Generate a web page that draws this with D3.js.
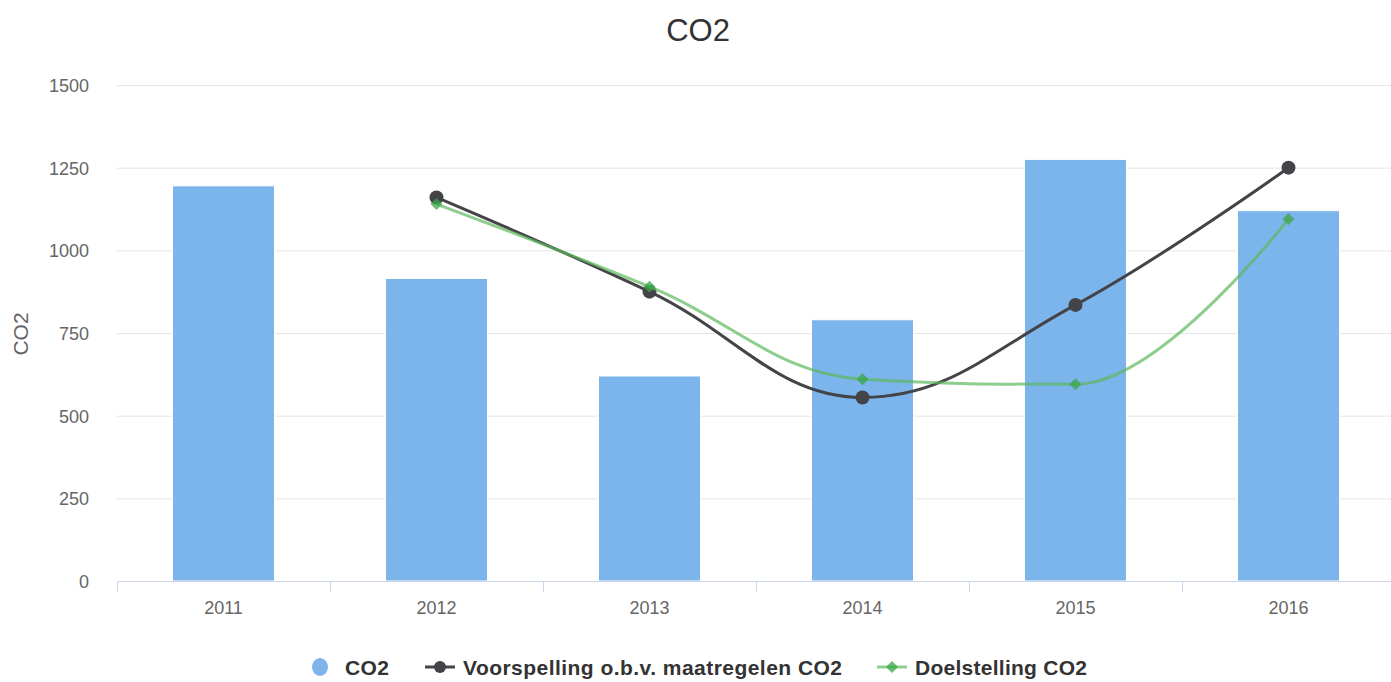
<!DOCTYPE html>
<html><head><meta charset="utf-8">
<script src="https://cdn.jsdelivr.net/npm/d3@7"></script>
<style>body{margin:0;background:#fff}svg{display:block;font-family:"Liberation Sans",Arial,Helvetica,sans-serif}</style>
</head><body><svg id="c" width="1391" height="682"></svg>
<script>
const categories = ["2011","2012","2013","2014","2015","2016"];
const co2 = [1195, 915, 620, 790, 1275, 1120];
const voorspelling = [null, 1160, 875, 555, 835, 1250];
const doelstelling = [null, 1140, 890, 610, 595, 1095];
const yTicks = [0,250,500,750,1000,1250,1500];

const svg = d3.select("#c");
const m = {l:117, r:1395, t:85, b:581};
const x = d3.scaleBand().domain(categories).range([m.l, m.r]);
const y = d3.scaleLinear().domain([0,1500]).range([m.b, m.t]);

svg.append("text").attr("x",698).attr("y",41).attr("text-anchor","middle")
  .attr("font-size",31).attr("fill","#333").text("CO2");

// grid
svg.append("g").selectAll("line").data(yTicks.filter(d=>d>0)).join("line")
  .attr("x1",m.l).attr("x2",1391).attr("y1",d=>y(d)+0.5).attr("y2",d=>y(d)+0.5)
  .attr("stroke","#e6e6e6").attr("stroke-width",1);

// y labels
svg.append("g").selectAll("text").data(yTicks).join("text")
  .attr("x",89).attr("y",d=>y(d)+7).attr("text-anchor","end")
  .attr("font-size",18).attr("fill","#666").text(d=>d);

svg.append("text").attr("transform","translate(28,334) rotate(-90)")
  .attr("text-anchor","middle").attr("font-size",21).attr("fill","#666").text("CO2");

// bars
const bw = 102;
svg.append("g").selectAll("rect").data(co2).join("rect")
  .attr("x",(d,i)=>x(categories[i])+x.bandwidth()/2-bw/2)
  .attr("width",bw)
  .attr("y",d=>y(d)).attr("height",d=>y(0)-y(d))
  .attr("fill","#7cb5ec").attr("stroke","#fff").attr("stroke-width",1);

// x axis
const xa = svg.append("g");
xa.append("line").attr("x1",m.l).attr("x2",1391).attr("y1",m.b+0.5).attr("y2",m.b+0.5).attr("stroke","#ccd6eb");
const bounds = categories.map(c=>x(c));
xa.selectAll("line.t").data(bounds).join("line").attr("class","t")
  .attr("x1",d=>Math.round(d)+0.5).attr("x2",d=>Math.round(d)+0.5).attr("y1",m.b).attr("y2",m.b+11).attr("stroke","#ccd6eb");
xa.selectAll("text").data(categories).join("text")
  .attr("x",d=>x(d)+x.bandwidth()/2).attr("y",614).attr("text-anchor","middle")
  .attr("font-size",18).attr("fill","#666").text(d=>d);

// Highcharts-style spline
function splinePath(pts){
  const s=1.5, den=s+1;
  const ctrl = pts.map((p,i)=>{
    if(i===0||i===pts.length-1) return null;
    const a=pts[i-1], b=pts[i+1];
    let lx=(s*p[0]+a[0])/den, ly=(s*p[1]+a[1])/den;
    let rx=(s*p[0]+b[0])/den, ry=(s*p[1]+b[1])/den;
    if(rx!==lx){
      const corr=((ry-ly)*(rx-p[0]))/(rx-lx)+p[1]-ry;
      ly+=corr; ry+=corr;
    }
    if(ly>a[1]&&ly>p[1]){ly=Math.max(a[1],p[1]); ry=2*p[1]-ly;}
    else if(ly<a[1]&&ly<p[1]){ly=Math.min(a[1],p[1]); ry=2*p[1]-ly;}
    if(ry>b[1]&&ry>p[1]){ry=Math.max(b[1],p[1]); ly=2*p[1]-ry;}
    else if(ry<b[1]&&ry<p[1]){ry=Math.min(b[1],p[1]); ly=2*p[1]-ry;}
    return {lx,ly,rx,ry};
  });
  const path=d3.path();
  path.moveTo(pts[0][0],pts[0][1]);
  for(let i=1;i<pts.length;i++){
    const a=pts[i-1], p=pts[i];
    const c1 = ctrl[i-1] ? [ctrl[i-1].rx,ctrl[i-1].ry] : a;
    const c2 = ctrl[i] ? [ctrl[i].lx,ctrl[i].ly] : p;
    path.bezierCurveTo(c1[0],c1[1],c2[0],c2[1],p[0],p[1]);
  }
  return path.toString();
}
function pts(vals){
  return vals.map((v,i)=>v==null?null:[x(categories[i])+x.bandwidth()/2, y(v)]).filter(d=>d);
}
const pv=pts(voorspelling), pd=pts(doelstelling);

svg.append("path").attr("d",splinePath(pv)).attr("fill","none").attr("stroke","#434348").attr("stroke-width",3);
svg.append("g").selectAll("circle").data(pv).join("circle")
  .attr("cx",d=>d[0]).attr("cy",d=>d[1]).attr("r",7).attr("fill","#434348");

svg.append("path").attr("d",splinePath(pd)).attr("fill","none").attr("stroke","#5cb85c").attr("stroke-opacity",0.7).attr("stroke-width",3);
const diamond = (cx,cy,r)=>`M${cx},${cy-r}L${cx+r},${cy}L${cx},${cy+r}L${cx-r},${cy}Z`;
svg.append("g").selectAll("path").data(pd).join("path")
  .attr("d",d=>diamond(d[0],d[1],6)).attr("fill","#3aa648").attr("fill-opacity",0.75);

// legend
const lg = svg.append("g").attr("font-size",21).attr("font-weight","bold").attr("fill","#333");
lg.append("ellipse").attr("cx",320).attr("cy",667).attr("rx",8).attr("ry",9).attr("fill","#7cb5ec");
lg.append("text").attr("x",345).attr("y",675).attr("textLength",44).text("CO2");
lg.append("line").attr("x1",425).attr("x2",455).attr("y1",667).attr("y2",667).attr("stroke","#434348").attr("stroke-width",3);
lg.append("circle").attr("cx",440).attr("cy",667).attr("r",6).attr("fill","#434348");
lg.append("text").attr("x",463).attr("y",675).attr("textLength",379).text("Voorspelling o.b.v. maatregelen CO2");
lg.append("line").attr("x1",877).attr("x2",907).attr("y1",667).attr("y2",667).attr("stroke","#5cb85c").attr("stroke-opacity",0.7).attr("stroke-width",3);
lg.append("path").attr("d",diamond(892,667,6)).attr("fill","#3aa648").attr("fill-opacity",0.75);
lg.append("text").attr("x",915).attr("y",675).attr("textLength",172).text("Doelstelling CO2");
</script></body></html>
